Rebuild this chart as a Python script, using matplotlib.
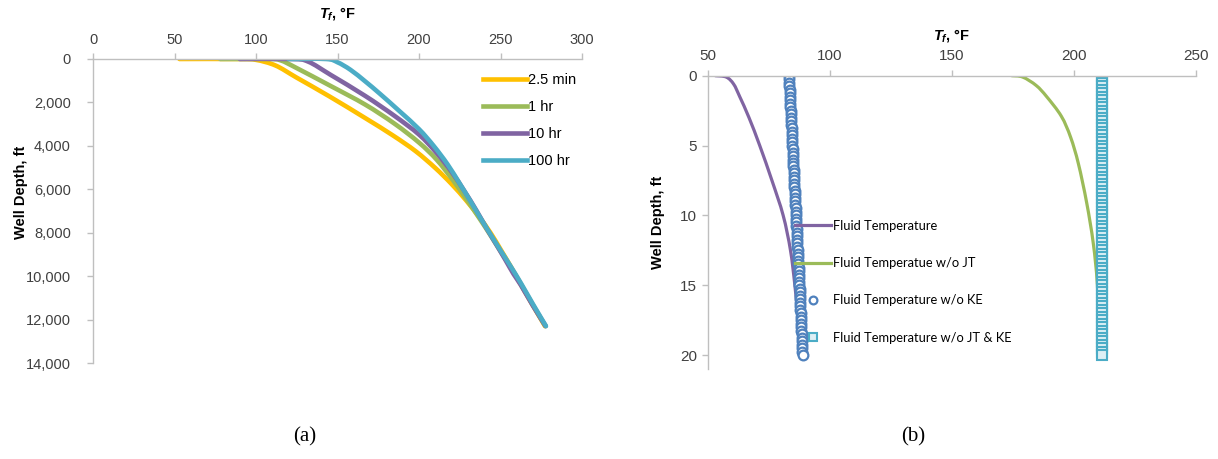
import matplotlib
matplotlib.use("Agg")
import matplotlib.pyplot as plt
from matplotlib.path import Path
from matplotlib.patches import PathPatch

plt.rcParams['font.family'] = ['Liberation Sans', 'DejaVu Sans']
plt.rcParams['mathtext.fontset'] = 'custom'
plt.rcParams['mathtext.it'] = 'Liberation Sans:italic:bold'
plt.rcParams['mathtext.rm'] = 'Liberation Sans:bold'

# ---- panel (a): fluid temperature vs depth for several times ----
time_labels = ['2.5 min', '1 hr', '10 hr', '100 hr']

t_25min = [53, 90, 100, 112, 125, 145, 167, 184, 198, 210, 220, 229, 237, 244, 250.3, 256, 262, 269.5, 277.3]
d_25min = [0, 0, 40, 300, 860, 1720, 2720, 3520, 4250, 5020, 5760, 6520, 7280, 8020, 8800, 9520, 10320, 11300, 12300]

t_1hr = [78, 107, 115, 125, 146, 167, 185, 200, 211, 221, 229.5, 237, 243.7, 250, 256, 262.2, 269.7, 277.5]
d_1hr = [0, 0, 60, 420, 1250, 2100, 2980, 3850, 4650, 5600, 6500, 7330, 8100, 8850, 9560, 10330, 11310, 12300]

t_10hr = [90, 122, 132, 146, 167, 185, 200, 210.5, 220, 228, 235, 241.5, 247.5, 253, 258, 262.4, 269.8, 277.7]
d_10hr = [0, 0, 120, 740, 1700, 2620, 3480, 4300, 5200, 6100, 6950, 7800, 8550, 9250, 9900, 10400, 11350, 12300]

t_100hr = [120, 143, 150, 158, 167, 176, 188, 200, 209, 217.5, 225, 232, 238.5, 244.5, 250.5, 256.5, 262.5, 270, 277.9]
d_100hr = [0, 0, 150, 500, 1030, 1600, 2400, 3230, 4000, 4850, 5740, 6600, 7420, 8150, 8870, 9580, 10320, 11300, 12300]

a_xticks = [0, 50, 100, 150, 200, 250, 300]
a_yticks = [0, 2000, 4000, 6000, 8000, 10000, 12000, 14000]
a_ylabels = ['0', '2,000', '4,000', '6,000', '8,000', '10,000', '12,000', '14,000']

# ---- panel (b): fluid temperature with/without JT and KE ----
b_labels = ['Fluid Temperature', 'Fluid Temperatue w/o JT',
            'Fluid Temperature w/o KE', 'Fluid Temperature w/o JT & KE']

d_fluid = [0, 0.1, 0.6, 1.5, 3, 5, 7.5, 10, 12.5, 15, 17.5, 20]
t_fluid = [53, 57.5, 60.5, 63, 66.8, 71.2, 76.2, 80.8, 83.8, 85.6, 87.0, 88.3]

d_nojt = [0, 0.1, 0.7, 1.5, 2.9, 4.4, 6.3, 9.1, 12, 15, 20]
t_nojt = [174.5, 179, 184.5, 188.8, 194.8, 198.6, 201.8, 205.2, 207.9, 209.6, 211]

d_pts = [0, 0.25, 0.5, 0.75, 1, 1.25, 1.5, 1.75, 2, 2.25, 2.5, 2.75, 3, 3.25, 3.5, 3.75,
         4, 4.25, 4.5, 4.75, 5, 5.25, 5.5, 5.75, 6, 6.25, 6.5, 6.75, 7, 7.25, 7.5, 7.75,
         8, 8.25, 8.5, 8.75, 9, 9.25, 9.5, 9.75, 10, 10.25, 10.5, 10.75, 11, 11.25, 11.5, 11.75,
         12, 12.25, 12.5, 12.75, 13, 13.25, 13.5, 13.75, 14, 14.25, 14.5, 14.75, 15, 15.25, 15.5, 15.75,
         16, 16.25, 16.5, 16.75, 17, 17.25, 17.5, 17.75, 18, 18.25, 18.5, 18.75, 19, 19.25, 19.5, 19.75, 20]
t_noke = [83.2, 83.3, 83.3, 83.4, 83.5, 83.6, 83.6, 83.7, 83.8, 83.8, 83.9, 84.0, 84.0, 84.1, 84.2, 84.3,
          84.3, 84.4, 84.5, 84.5, 84.6, 84.7, 84.7, 84.8, 84.9, 85.0, 85.0, 85.1, 85.2, 85.2, 85.3, 85.4,
          85.4, 85.5, 85.6, 85.7, 85.7, 85.8, 85.9, 85.9, 86.0, 86.1, 86.1, 86.2, 86.3, 86.4, 86.4, 86.5,
          86.6, 86.6, 86.7, 86.8, 86.8, 86.9, 87.0, 87.1, 87.1, 87.2, 87.3, 87.3, 87.4, 87.5, 87.5, 87.6,
          87.7, 87.8, 87.8, 87.9, 88.0, 88.0, 88.1, 88.2, 88.2, 88.3, 88.4, 88.5, 88.5, 88.6, 88.7, 88.7, 88.8]
t_nojtke = [211.3, 211.3, 211.3, 211.3, 211.3, 211.3, 211.3, 211.3, 211.3, 211.3, 211.3, 211.3, 211.3, 211.3, 211.3, 211.3,
            211.3, 211.3, 211.3, 211.3, 211.3, 211.3, 211.3, 211.3, 211.3, 211.3, 211.3, 211.3, 211.3, 211.3, 211.3, 211.3,
            211.3, 211.3, 211.3, 211.3, 211.3, 211.3, 211.3, 211.3, 211.3, 211.3, 211.3, 211.3, 211.3, 211.3, 211.3, 211.3,
            211.3, 211.3, 211.3, 211.3, 211.3, 211.3, 211.3, 211.3, 211.3, 211.3, 211.3, 211.3, 211.3, 211.3, 211.3, 211.3,
            211.3, 211.3, 211.3, 211.3, 211.3, 211.3, 211.3, 211.3, 211.3, 211.3, 211.3, 211.3, 211.3, 211.3, 211.3, 211.3, 211.3]

b_xticks = [50, 100, 150, 200, 250]
b_yticks = [0, 5, 10, 15, 20]

axis_gray = '#BFBFBF'
text_gray = '#404040'


#draws a smoothed (catmull-rom style bezier) line through the points, like a spreadsheet "smoothed line"
def smooth_line(ax, x, y, color, lw, label):
    n = len(x)
    verts = [(x[0], y[0])]
    codes = [Path.MOVETO]
    for i in range(n - 1):
        p0 = (x[i - 1], y[i - 1]) if i > 0 else (x[i], y[i])
        p1 = (x[i], y[i])
        p2 = (x[i + 1], y[i + 1])
        p3 = (x[i + 2], y[i + 2]) if i + 2 < n else p2
        c1 = (p1[0] + (p2[0] - p0[0]) / 6, p1[1] + (p2[1] - p0[1]) / 6)
        c2 = (p2[0] - (p3[0] - p1[0]) / 6, p2[1] - (p3[1] - p1[1]) / 6)
        verts += [c1, c2, p2]
        codes += [Path.CURVE4] * 3
    ax.add_patch(PathPatch(Path(verts, codes), fill=False, edgecolor=color, lw=lw,
                           capstyle='round', joinstyle='round'))
    # proxy for the legend
    ax.plot([], [], color=color, lw=lw, label=label)


def style_axes(ax, fs, ypad):
    ax.xaxis.tick_top()
    ax.xaxis.set_label_position('top')
    ax.spines['bottom'].set_visible(False)
    ax.spines['right'].set_visible(False)
    for s in ['top', 'left']:
        ax.spines[s].set_color(axis_gray)
        ax.spines[s].set_linewidth(1.0)
    ax.tick_params(axis='both', direction='out', length=4, width=1.0, color=axis_gray,
                   labelcolor=text_gray, labelsize=fs)
    ax.tick_params(axis='x', pad=5)
    ax.tick_params(axis='y', pad=ypad)


fig = plt.figure(figsize=(12.18, 4.59), dpi=100)

# panel (a)
ax_a = fig.add_axes([93 / 1218, 1 - 363 / 459, 489 / 1218, 304 / 459])
cols_a = ['#FFC000', '#9BBB59', '#8064A2', '#4BACC6']
for t, d, c, lab in zip([t_25min, t_1hr, t_10hr, t_100hr],
                        [d_25min, d_1hr, d_10hr, d_100hr], cols_a, time_labels):
    smooth_line(ax_a, t, d, c, 3.3, lab)
ax_a.set_xlim(0, 300)
ax_a.set_ylim(14000, 0)
ax_a.set_xticks(a_xticks)
ax_a.set_yticks(a_yticks)
ax_a.set_yticklabels(a_ylabels)
style_axes(ax_a, 10.5, 12)
ax_a.set_xlabel(r'$T_f$, °F', fontsize=10.5, fontweight='bold', labelpad=11)
ax_a.set_ylabel('Well Depth, ft', fontsize=10.5, fontweight='bold')
ax_a.yaxis.set_label_coords(-0.133, 0.5625)
ax_a.legend(loc='upper left', bbox_to_anchor=(483 / 1218, 1 - 73 / 459),
            bbox_transform=fig.transFigure, frameon=False, fontsize=10.5,
            handlelength=3.0, handletextpad=0.1, labelspacing=0.89, borderpad=0,
            borderaxespad=0)

# panel (b)
ax_b = fig.add_axes([708 / 1218, 1 - 369 / 459, 488 / 1218, 293.3 / 459])
smooth_line(ax_b, t_fluid, d_fluid, '#8064A2', 2.3, b_labels[0])
smooth_line(ax_b, t_nojt, d_nojt, '#9BBB59', 2.3, b_labels[1])
ax_b.plot(t_noke, d_pts, ls='none', marker='o', ms=7, mfc='white', mec='#4F81BD',
          mew=1.6, label=b_labels[2])
ax_b.plot(t_nojtke, d_pts, ls='none', marker='s', ms=6.8, mfc='#DDEFF5', mec='#4BACC6',
          mew=1.5, label=b_labels[3])
ax_b.set_xlim(50, 250)
ax_b.set_ylim(21, 0)
ax_b.set_xticks(b_xticks)
ax_b.set_yticks(b_yticks)
style_axes(ax_b, 11, 4)
ax_b.set_xlabel(r'$T_f$, °F', fontsize=10.5, fontweight='bold', labelpad=7)
ax_b.set_ylabel('Well Depth, ft', fontsize=10.5, fontweight='bold')
ax_b.yaxis.set_label_coords(-0.088, 0.5)
ax_b.legend(loc='upper left', bbox_to_anchor=(795 / 1218, 1 - 220 / 459),
            bbox_transform=fig.transFigure, frameon=False, numpoints=1, markerscale=0.8,
            prop={'family': ['Lato', 'DejaVu Sans'], 'size': 9.3},
            handlelength=2.8, handletextpad=0.15, labelspacing=1.95, borderpad=0,
            borderaxespad=0)

fig.text(305 / 1218, 1 - 437 / 459, '(a)', ha='center', va='center', fontsize=15,
         family='Liberation Serif')
fig.text(913 / 1218, 1 - 437 / 459, '(b)', ha='center', va='center', fontsize=15,
         family='Liberation Serif')

fig.savefig('out.png', dpi=100)
